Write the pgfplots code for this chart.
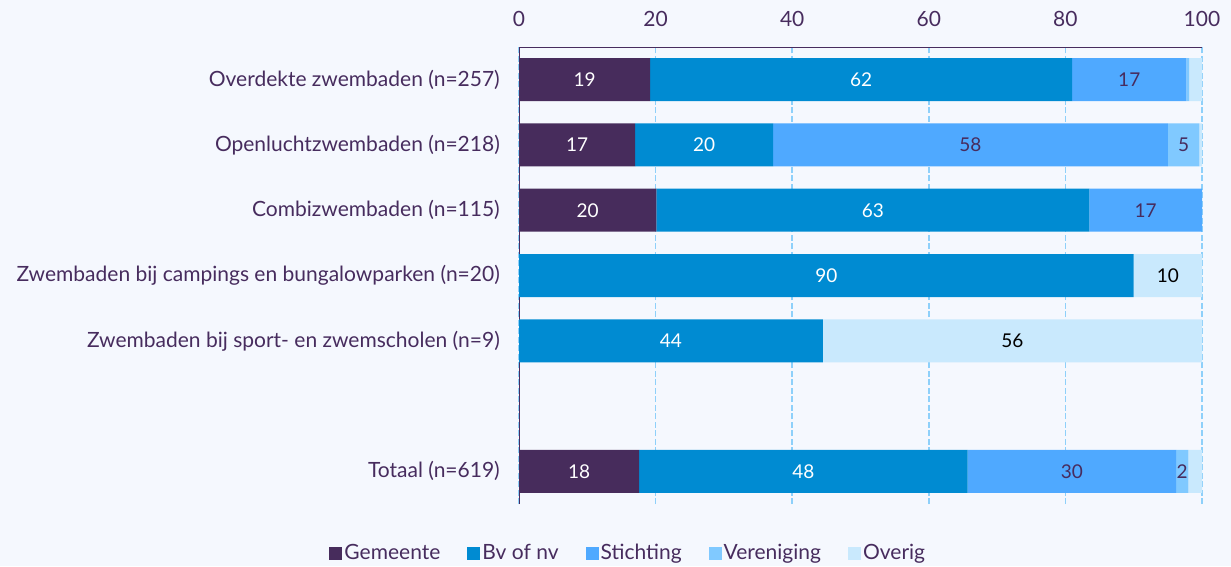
\documentclass[border=0pt]{standalone}
\usepackage{pgfplots}
\pgfplotsset{compat=1.18}
\usepackage{fontspec}
\setmainfont{Lato}
\definecolor{bg}{HTML}{F5F8FE}
\definecolor{txt}{HTML}{472C5E}
\definecolor{gem}{HTML}{472C5C}
\definecolor{bvnv}{HTML}{008BD2}
\definecolor{sti}{HTML}{4FA9FF}
\definecolor{ver}{HTML}{80C9FF}
\definecolor{ove}{HTML}{C9E9FD}
\definecolor{gridc}{HTML}{8ED0FA}
\pgfplotsset{
  sq/.style={legend image code/.code={\fill[##1, draw=none] (0pt,-6.5pt) rectangle (13pt,6.5pt);}},
}
\begin{document}
\fontsize{21}{25}\selectfont
\begin{tikzpicture}[x=1pt,y=1pt]
\fill[bg] (0,0) rectangle (1231,566);
\path[use as bounding box] (0,0) rectangle (1231,566);
\begin{axis}[
  at={(519pt,62pt)}, anchor=south west,
  scale only axis, width=683pt, height=457pt,
  xbar stacked, bar width=43pt,
  xmin=0, xmax=100, ymin=-0.5, ymax=6.5,
  axis x line=top, axis y line=left,
  x axis line style={-}, y axis line style={-},
  axis line style={draw=txt, line width=1pt},
  xtick={0,20,40,60,80,100},
  ytick={0,2,3,4,5,6},
  yticklabels={{Totaal (n=619)},{Zwembaden bij sport- en zwemscholen (n=9)},{Zwembaden bij campings en bungalowparken (n=20)},{Combizwembaden (n=115)},{Openluchtzwembaden (n=218)},{Overdekte zwembaden (n=257)}},
  major tick length=0pt,
  tick label style={text=txt},
  /pgf/number format/assume math mode=true,
  xticklabel style={yshift=13pt},
  yticklabel style={xshift=-12pt},
  xmajorgrids, grid style={gridc, dash pattern=on 6pt off 2.5pt, line width=1.5pt},
  point meta=explicit symbolic,
  nodes near coords,
  every node near coord/.append style={font=\fontsize{19}{23}\selectfont},
  legend columns=-1,
  legend style={draw=none, fill=none, at={(0.16,-0.108)}, anchor=center,
    text=txt, /tikz/every even column/.append style={column sep=25pt}},
]
\addplot[fill=gem, draw=none, sq, every node near coord/.append style={text=white}]
  coordinates {(19.2,6)[19] (17.0,5)[17] (20.1,4)[20] (0,3)[] (0,2)[] (0,1)[] (17.6,0)[18]};
\addplot[fill=bvnv, draw=none, sq, every node near coord/.append style={text=white}]
  coordinates {(61.8,6)[62] (20.2,5)[20] (63.4,4)[63] (90.0,3)[90] (44.5,2)[44] (0,1)[] (48.1,0)[48]};
\addplot[fill=sti, draw=none, sq, every node near coord/.append style={text=txt}]
  coordinates {(16.7,6)[17] (57.8,5)[58] (16.5,4)[17] (0,3)[] (0,2)[] (0,1)[] (30.5,0)[30]};
\addplot[fill=ver, draw=none, sq, every node near coord/.append style={text=txt}]
  coordinates {(0.4,6)[] (4.6,5)[5] (0,4)[] (0,3)[] (0,2)[] (0,1)[] (1.8,0)[2]};
\addplot[fill=ove, draw=none, sq, every node near coord/.append style={text=black}]
  coordinates {(1.9,6)[] (0.4,5)[] (0,4)[] (10.0,3)[10] (55.5,2)[56] (0,1)[] (2.0,0)[]};
\legend{Gemeente, Bv of nv, Stichting, Vereniging, Overig}
\end{axis}
\end{tikzpicture}
\end{document}
